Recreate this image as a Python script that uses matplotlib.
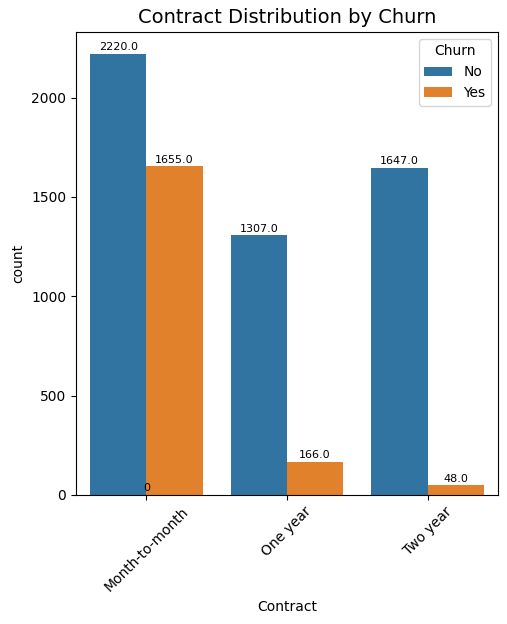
import matplotlib
matplotlib.use("Agg")
import matplotlib.pyplot as plt
import numpy as np

categories = ["Month-to-month", "One year", "Two year"]
churn_no = [2220, 1307, 1647]
churn_yes = [1655, 166, 48]
hue_labels = ["No", "Yes"]
colors = ["#3274a1", "#e1812c"]

fig = plt.figure(figsize=(5.07, 6.24), dpi=100)
ax = fig.add_axes([0.150, 0.207, 0.832, 0.742])

x = np.arange(len(categories))
w = 0.4
bars_no = ax.bar(x - w / 2, churn_no, width=w, color=colors[0], label=hue_labels[0])
bars_yes = ax.bar(x + w / 2, churn_yes, width=w, color=colors[1], label=hue_labels[1])

for b in list(bars_no) + list(bars_yes):
    h = b.get_height()
    ax.annotate(f"{float(h)}", (b.get_x() + b.get_width() / 2, h),
                ha="center", va="bottom", fontsize=8, xytext=(0, 1),
                textcoords="offset points")
ax.annotate("0", (0, 0), ha="center", va="bottom", fontsize=8,
            xytext=(0, 1), textcoords="offset points")

ax.set_xticks(x)
ax.set_xticklabels(categories, rotation=45)
ax.set_xlim(-0.5, 2.5)
ax.set_xlabel("Contract")
ax.set_ylabel("count")
ax.set_title("Contract Distribution by Churn", fontsize=14)
ax.legend(title="Churn", loc="upper right")

fig.savefig("out.png", dpi=100)
